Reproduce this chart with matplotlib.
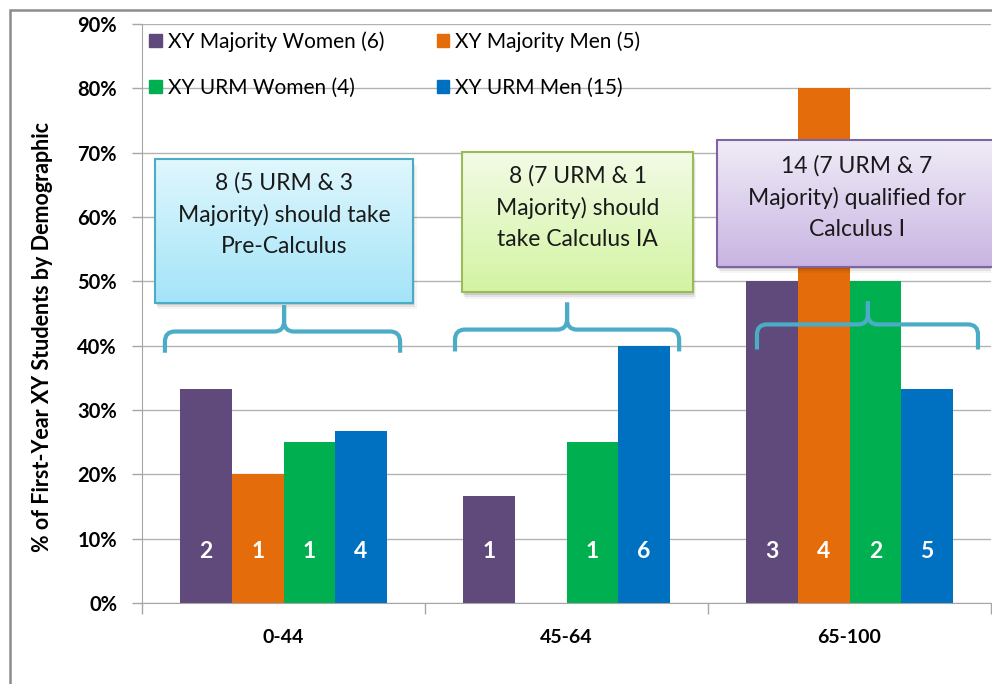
import numpy as np
import matplotlib.pyplot as plt
from matplotlib.patches import Rectangle, Patch, PathPatch
from matplotlib.path import Path
from matplotlib.colors import LinearSegmentedColormap

plt.rcParams['font.family'] = ['Lato', 'DejaVu Sans']

# data
categories = ['0-44', '45-64', '65-100']
series = ['XY Majority Women (6)', 'XY Majority Men (5)',
          'XY URM Women (4)', 'XY URM Men (15)']
colors = ['#604A7B', '#E46C0A', '#00B050', '#0070C0']
pct = [[33.3, 16.7, 50.0],
       [20.0, 0.0, 80.0],
       [25.0, 25.0, 50.0],
       [26.7, 40.0, 33.3]]
counts = [[2, 1, 3],
          [1, 0, 4],
          [1, 1, 2],
          [4, 6, 5]]
notes = ['8 (5 URM & 3\nMajority) should take\nPre-Calculus',
         '8 (7 URM & 1\nMajority) should\ntake Calculus IA',
         '14 (7 URM & 7\nMajority) qualified for\nCalculus I']

fig = plt.figure(figsize=(9.92, 6.84), dpi=100)
ax = fig.add_axes([142/992, 81/684, 849/992, 579/684])

x = np.arange(len(categories))
w = 0.182
for i in range(len(series)):
    xs = x + (i - 1.5)*w
    ax.bar(xs, pct[i], width=w, color=colors[i], zorder=2, label=series[i])
    for j in range(len(categories)):
        if counts[i][j] > 0:
            ax.text(xs[j], 8, str(counts[i][j]), color='white', fontsize=16.5,
                    fontweight='bold', ha='center', va='center', zorder=3)

ax.set_xlim(-0.5, 2.5)
ax.set_ylim(0, 90)
ax.set_yticks(np.arange(0, 91, 10))
ax.set_yticklabels(['%d%%' % v for v in range(0, 91, 10)], fontsize=14.5, fontweight='bold')
ax.set_xticks(x)
ax.set_xticklabels(categories, fontsize=14, fontweight='bold')
ax.set_xticks([-0.5, 0.5, 1.5, 2.5], minor=True)
ax.tick_params(axis='x', which='major', length=0, pad=19)
ax.tick_params(axis='x', which='minor', length=8, color='#A6A6A6', width=1)
ax.tick_params(axis='y', length=7, color='#A6A6A6', width=1, pad=11)
ax.grid(axis='y', color='#B3B3B3', lw=1, zorder=0)
ax.set_axisbelow(True)
for s in ['top', 'right']:
    ax.spines[s].set_visible(False)
ax.spines['left'].set_color('#A6A6A6')
ax.spines['bottom'].set_color('#A6A6A6')

# legend, two columns, filled column-wise
order = [0, 2, 1, 3]
handles = [Patch(color=colors[k]) for k in order]
ax.legend(handles, [series[k] for k in order], ncol=2, loc='upper left',
          bbox_to_anchor=(0.0, 1.0), frameon=False, fontsize=15,
          handlelength=0.6, handleheight=0.6, handletextpad=0.3,
          labelspacing=1.23, columnspacing=2.5, borderaxespad=0.05,
          borderpad=0.3)

# annotation boxes with vertical gradients
boxes = [(-0.454, 0.458, 46.7, 69.0, 60.4, '#E0F7FD', '#A3E4F8', '#4BACC6'),
         (0.631, 1.447, 48.3, 70.1, 61.5, '#F3FBE6', '#D3F4A2', '#9BBB59'),
         (1.532, 2.52, 52.3, 72.0, 63.1, '#F0ECF7', '#C8B4E2', '#8064A2')]
for (x0, x1, y0, y1, ytxt, ctop, cbot, edge), txt in zip(boxes, notes):
    for k, a in enumerate([0.10, 0.07, 0.04]):
        dx = 0.004*(k+1)
        dy = 0.35*(k+1)
        ax.add_patch(Rectangle((x0 + dx, y0 - dy), x1 - x0, y1 - y0,
                               color='black', alpha=a, lw=0, zorder=4))
    cmap = LinearSegmentedColormap.from_list('g', [cbot, ctop])
    grad = np.linspace(0, 1, 256).reshape(-1, 1)
    ax.imshow(grad, extent=(x0, x1, y0, y1), origin='lower', cmap=cmap,
              aspect='auto', zorder=5, clip_on=False)
    ax.add_patch(Rectangle((x0, y0), x1 - x0, y1 - y0, fill=False,
                           edgecolor=edge, lw=1.5, zorder=6, clip_on=False))
    ax.text((x0 + x1)/2, ytxt, txt, ha='center', va='center', fontsize=16.5,
            linespacing=1.58, color='#1a1a1a', zorder=7)

# curly braces
def brace(xa, xb, xc, yb, ym, yt, rx=0.035, ry=1.6):
    codes = [Path.MOVETO, Path.LINETO, Path.CURVE3, Path.CURVE3, Path.LINETO,
             Path.CURVE3, Path.CURVE3, Path.LINETO]
    for xe, sgn in [(xa, 1), (xb, -1)]:
        verts = [(xe, yb), (xe, ym - ry), (xe, ym), (xe + sgn*rx, ym),
                 (xc - sgn*rx, ym), (xc, ym), (xc, ym + ry), (xc, yt)]
        ax.add_patch(PathPatch(Path(verts, codes), fill=False, edgecolor='#4BACC6',
                               lw=3, zorder=8, capstyle='butt', joinstyle='round'))

brace(-0.419, 0.412, 0.002, 38.9, 42.2, 46.3)
brace(0.606, 1.398, 1.002, 39.1, 42.5, 46.7)
brace(1.673, 2.454, 2.065, 39.4, 43.3, 46.9)

ax.set_xlim(-0.5, 2.5)
ax.set_ylim(0, 90)

fig.text(43/992, 1 - 337/684, '% of First-Year XY Students by Demographic',
         rotation=90, ha='center', va='center', fontsize=15.5, fontweight='bold')

fig.add_artist(Rectangle((10/992, -0.1), 1.2, 1.1 + (674/684 - 1),
                         transform=fig.transFigure, fill=False,
                         edgecolor='#8C8C8C', lw=1.8))

fig.savefig('out.png', dpi=100)
